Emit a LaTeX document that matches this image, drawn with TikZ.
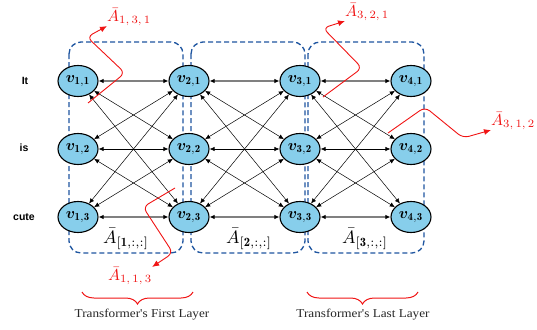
\RequirePackage{fix-cm}
\documentclass[tikz,border=0pt]{standalone}
\usepackage{graphicx}
\usepackage{amsmath,bm}
\usepackage{fontspec}
\newfontfamily\arialf{Liberation Sans}
\newfontfamily\timesf{Liberation Serif}
\usetikzlibrary{arrows.meta,shapes.geometric,decorations.pathreplacing}
\definecolor{nodeblue}{RGB}{135,206,235}
\definecolor{boxblue}{RGB}{30,85,160}
\definecolor{redline}{RGB}{240,20,20}
\newcommand\vlab[2]{\scalebox{1.55}{$\bm{v}_{\mathbf{#1,#2}}$}}
\newcommand\boxA[1]{\scalebox{1.8}{$\bar{A}_{\mathbf{[#1,:,:]}}$}}
\newcommand\redA[3]{\scalebox{1.6}{$\bar{A}_{#1,\,#2,\,#3}$}}
\begin{document}
\begin{tikzpicture}[x=1pt,y=-1pt,
  vnode/.style={ellipse,draw,line width=1.1pt,fill=nodeblue,minimum width=40pt,minimum height=31pt,inner sep=0pt},
  layerbox/.style={draw=boxblue,line width=1.3pt,dash pattern=on 5pt off 3pt,rounded corners=12pt},
  dedge/.style={{Latex[length=5pt,width=4.5pt]}-{Latex[length=5pt,width=4.5pt]},line width=0.5pt,black},
  hedge/.style={{Latex[length=5pt,width=4.5pt,color=black]}-{Latex[length=5pt,width=4.5pt,color=black]},line width=1.1pt,black!50},
  medge/.style={{Latex[length=5pt,width=4.5pt]}-{Latex[length=5pt,width=4.5pt]},line width=0.7pt,black},
  redarrow/.style={redline,line width=0.9pt,rounded corners=6pt,-{Latex[length=7pt,width=6pt]}},
  redlab/.style={text=redline,inner sep=0pt},
  boxlab/.style={inner sep=0pt},
  rowlab/.style={font=\arialf\bfseries\fontsize{10.5}{12}\selectfont,inner sep=0pt},
  brace/.style={redline,line width=1pt,decorate,decoration={brace,mirror,amplitude=12pt}},
  layerlab/.style={font=\timesf\fontsize{12}{14}\selectfont,text=black!85,inner sep=0pt}
]
\useasboundingbox (0,0) rectangle (537,329);
% layer boxes
\draw[layerbox] (69,42) rectangle (183,253);
\draw[layerbox] (191,42) rectangle (305,253);
\draw[layerbox] (308,42) rectangle (424,253);
% nodes
\foreach \c/\x in {1/78,2/189,3/300,4/411}
  \foreach \r/\y in {1/81,2/149,3/217}
    \node[vnode] (v\c\r) at (\x,\y) {\vlab{\c}{\r}};
% edges
\foreach \c/\d in {1/2,2/3,3/4} {
  \foreach \i/\j in {1/2,1/3,2/1,2/3,3/1,3/2}
    \draw[dedge] (v\c\i) -- (v\d\j);
  \draw[hedge] (v\c1) -- (v\d1);
  \draw[medge] (v\c2) -- (v\d2);
  \draw[hedge] (v\c3) -- (v\d3);
}
% row labels
\node[rowlab] (wit) at (25,81) {It};
\node[rowlab] (wis) at (24,148) {is};
\node[rowlab] (wcute) at (24,217) {cute};
% box labels
\node[boxlab] (b1) at (126,239) {\boxA{1}};
\node[boxlab] (b2) at (249,239) {\boxA{2}};
\node[boxlab] (b3) at (365,239) {\boxA{3}};
% red labels
\node[redlab,anchor=west] (a131) at (107,17) {\redA{1}{3}{1}};
\node[redlab,anchor=west] (a321) at (345,12) {\redA{3}{2}{1}};
\node[redlab,anchor=west] (a312) at (491,121) {\redA{3}{1}{2}};
\node[redlab] (a113) at (130,276) {\redA{1}{1}{3}};
% red paths
\coordinate (s1) at (88,103);
\coordinate (s2) at (323,97);
\coordinate (s3) at (388,133);
\coordinate (s4) at (175,188);
\draw[redarrow] (s1) -- (125,73) -- (87,37) -- (a131.south west);
\draw[redarrow] (s2) -- (362,68) -- (323,28) -- (a321.south west);
\draw[redarrow] (s3) -- (425,107) -- (463,138) -- (a312.south west);
\draw[redarrow] (s4) -- (143,207) -- (173,253) -- (a113.north east);
% braces
\coordinate (br1a) at (82,292);
\coordinate (br1b) at (193,292);
\coordinate (br2a) at (307,292);
\coordinate (br2b) at (418,292);
\draw[brace] (br1a) -- (br1b);
\draw[brace] (br2a) -- (br2b);
\node[layerlab] (l1) at (142,315) {\scalebox{1.1}[1]{Transformer's First Layer}};
\node[layerlab] (l2) at (363,315) {\scalebox{1.1}[1]{Transformer's Last Layer}};
\end{tikzpicture}
\end{document}
